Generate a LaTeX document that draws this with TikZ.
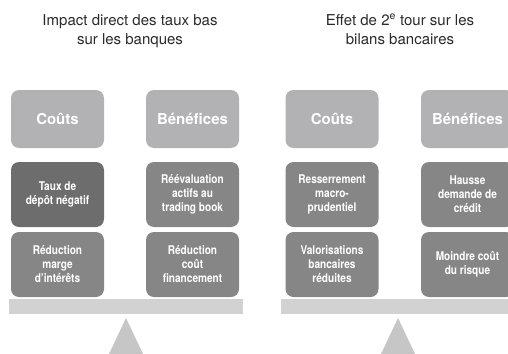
\documentclass[tikz,border=0pt]{standalone}
\usepackage{fontspec}
\setmainfont{TeX Gyre Heros}
\newfontfamily\condfont{TeX Gyre Heros}[FakeStretch=0.84]
\definecolor{hdrgray}{HTML}{B2B2B4}
\definecolor{darkgray}{HTML}{6D6D6D}
\definecolor{midgray}{HTML}{868686}
\definecolor{bargray}{HTML}{D2D2D2}
\definecolor{trigray}{HTML}{C6C6C6}
\definecolor{titlegray}{HTML}{2A2A2A}
\begin{document}
\begin{tikzpicture}[x=1pt,y=-1pt,
  title/.style={font=\fontsize{15}{19}\selectfont, text=titlegray, align=center, inner sep=0pt, anchor=north},
  hdr/.style={fill=hdrgray, rounded corners=8pt, minimum width=93pt, minimum height=58pt, inner sep=0pt,
    text=white, font=\fontsize{15}{18}\selectfont\bfseries},
  itembox/.style={rounded corners=8pt, minimum width=93pt, minimum height=65pt, inner sep=0pt,
    text=white, align=center, font=\condfont\fontsize{12}{14}\selectfont\bfseries},
  darkbox/.style={itembox, fill=darkgray},
  midbox/.style={itembox, fill=midgray}]
\useasboundingbox (0,0) rectangle (508,353);
\clip (0,0) rectangle (508,353);
% titles
\node[title] (t1) at (130,14) {Impact direct des taux bas\\sur les banques};
\node[title] (t2) at (400,14) {Effet de 2\textsuperscript{e} tour sur les\\bilans bancaires};
% left panel
\node[hdr] (h1) at (57.5,119) {Coûts};
\node[hdr] (h2) at (192.5,119) {Bénéfices};
\node[darkbox] (a1) at (57.5,194.5) {Taux de\\dépôt négatif};
\node[midbox] (b1) at (192.5,194.5) {Réévaluation\\actifs au\\trading book};
\node[midbox] (a2) at (57.5,264.5) {Réduction\\marge\\d’intérêts};
\node[midbox] (b2) at (192.5,264.5) {Réduction\\coût\\financement};
% right panel
\node[hdr] (h3) at (332,119) {Coûts};
\node[hdr] (h4) at (467.5,119) {Bénéfices};
\node[midbox] (c1) at (332,194.5) {Resserrement\\macro-\\prudentiel};
\node[midbox] (d1) at (467.5,194.5) {Hausse\\demande de\\crédit};
\node[midbox] (c2) at (332,264.5) {Valorisations\\bancaires\\réduites};
\node[midbox] (d2) at (467.5,264.5) {Moindre coût\\du risque};
% scales
\fill[bargray] (9,299) rectangle (243,314);
\fill[bargray] (281,299) rectangle (510,314);
\fill[trigray] (126,318) -- (143,354) -- (109,354) -- cycle;
\fill[trigray] (398,318) -- (415,354) -- (381,354) -- cycle;
\end{tikzpicture}
\end{document}
